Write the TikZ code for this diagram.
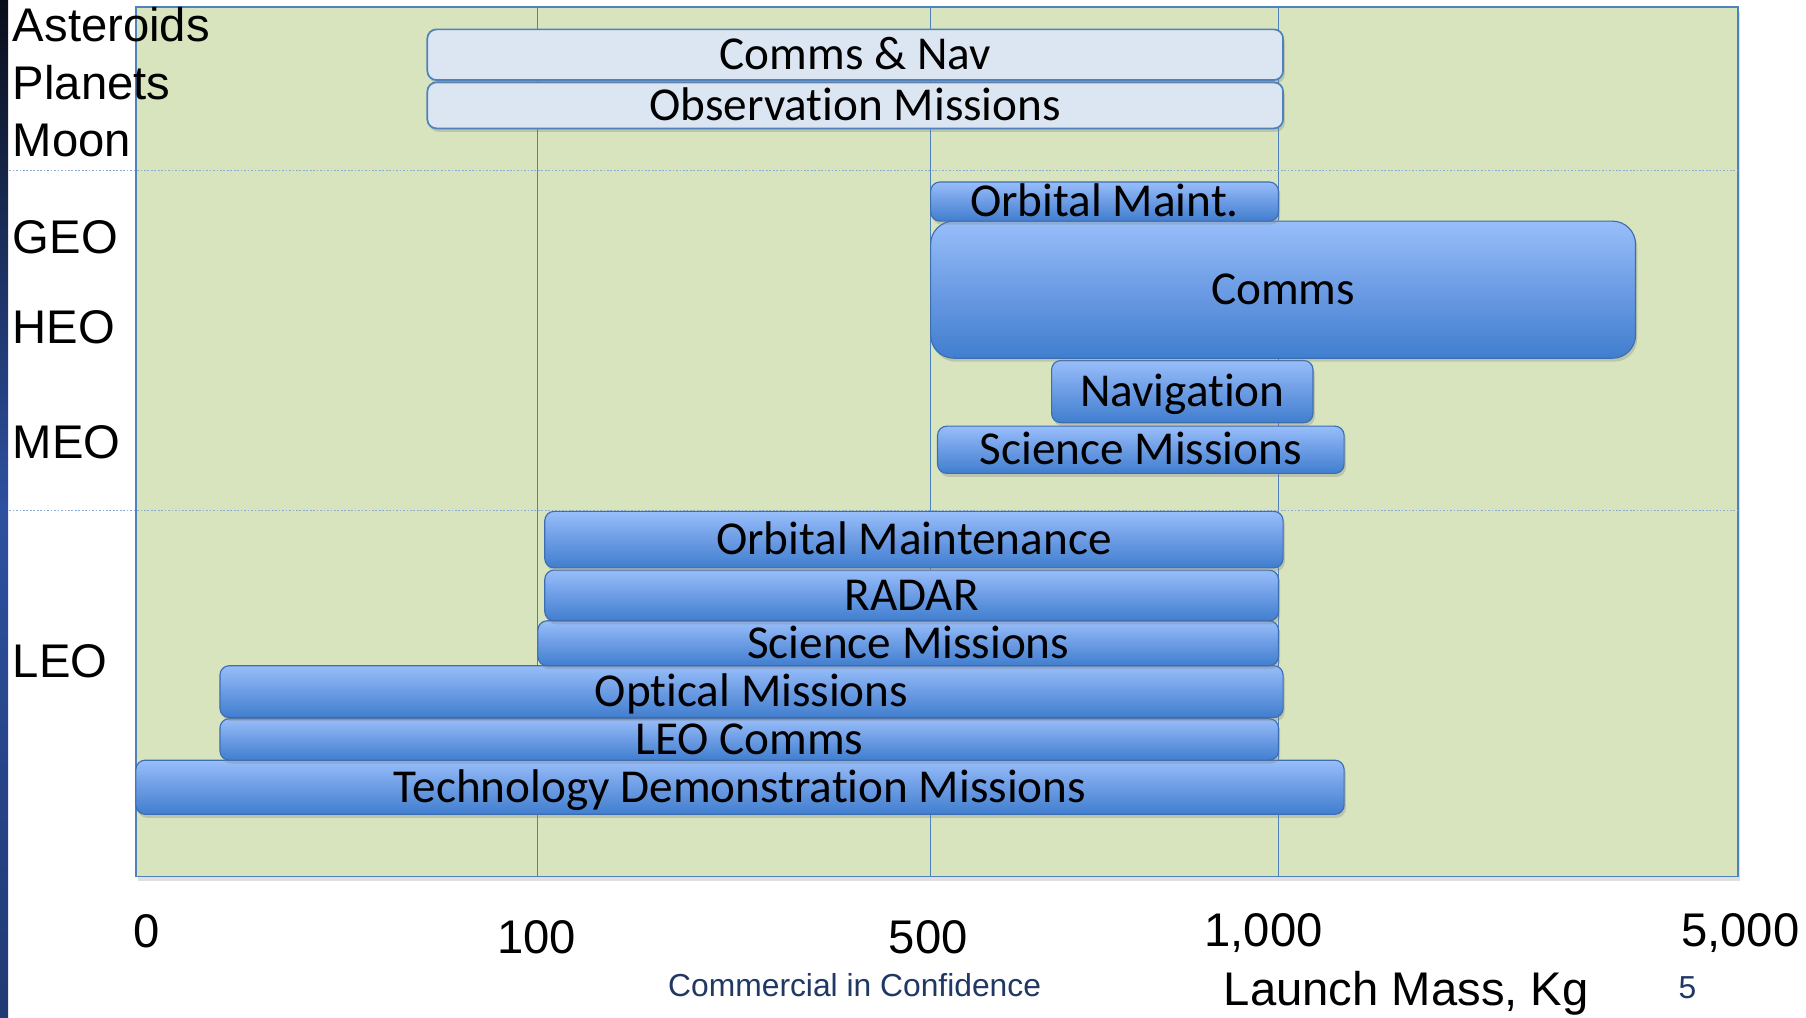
\documentclass[tikz,border=0pt]{standalone}
\usepackage{fontspec}
\setmainfont{Liberation Sans}
\newfontfamily\barfont[Ligatures={NoCommon,NoContextual}]{Carlito}
\usetikzlibrary{shadows}
\definecolor{panelgreen}{RGB}{215,228,189}
\definecolor{gridblue}{RGB}{79,129,189}
\definecolor{dotblue}{RGB}{140,172,212}
\definecolor{lightbar}{RGB}{220,230,242}
\definecolor{bartop}{RGB}{152,190,250}
\definecolor{barmid}{RGB}{108,156,228}
\definecolor{barbot}{RGB}{64,126,206}
\definecolor{barline}{RGB}{62,110,178}
\definecolor{navytext}{RGB}{31,56,100}
\definecolor{striptop}{RGB}{10,14,26}
\definecolor{stripmid}{RGB}{45,80,160}
\definecolor{stripbot}{RGB}{32,58,115}
\tikzset{
  barshadow/.style={drop shadow={shadow xshift=1.5pt, shadow yshift=-3pt, opacity=0.3}},
  bluebar/.style={draw=barline, line width=1pt, rounded corners=8pt,
    top color=bartop, bottom color=barbot, middle color=barmid,
    inner sep=0pt, text height=26.4pt, text depth=0pt,
    font=\barfont\fontsize{41}{41}\selectfont, barshadow},
  lightbox/.style={draw=gridblue, line width=1.5pt, rounded corners=8pt, fill=lightbar,
    inner sep=0pt, text height=26.4pt, text depth=0pt,
    font=\barfont\fontsize{41}{41}\selectfont, barshadow},
  lbl/.style={font=\fontsize{41}{41}\selectfont, inner sep=0pt, anchor=base west},
  axisnum/.style={font=\fontsize{41}{41}\selectfont, inner sep=0pt, anchor=base},
  footer/.style={font=\fontsize{27.6}{28}\selectfont, text=navytext, inner sep=0pt, anchor=base},
  gridline/.style={draw=gridblue, line width=0.9pt},
  dotline/.style={draw=dotblue, line width=1pt, dash pattern=on 1.5pt off 1.5pt}
}
\begin{document}
\begin{tikzpicture}[x=1pt, y=-1pt]
\useasboundingbox (0,0) rectangle (1568,883);
\fill[white] (0,0) rectangle (1568,883);
% left dark strip
\shade[top color=striptop, bottom color=stripbot, middle color=stripmid] (0,0) rectangle (7,883);
% panel
\path[fill=panelgreen, draw=gridblue, line width=1.2pt,
  drop shadow={shadow xshift=2pt, shadow yshift=-4pt, opacity=0.25}] (118,6) rectangle (1509,761);
% grid lines
\coordinate (g1t) at (467,6); \coordinate (g1b) at (467,761);
\coordinate (g2t) at (808,6); \coordinate (g2b) at (808,761);
\coordinate (g3t) at (1110,6); \coordinate (g3b) at (1110,761);
\draw[gridline] (g1t) -- (g1b);
\draw[gridline] (g2t) -- (g2b);
\draw[gridline] (g3t) -- (g3b);
% dotted separators
\coordinate (d1l) at (8,148); \coordinate (d1r) at (1509,148);
\coordinate (d2l) at (8,443); \coordinate (d2r) at (1509,443);
\draw[dotline] (d1l) -- (d1r);
\draw[dotline] (d2l) -- (d2r);
% left labels
\node[lbl] (ast) at (11,36) {Asteroids};
\node[lbl] (pla) at (11,86) {Planets};
\node[lbl] (moo) at (11,136) {Moon};
\node[lbl] (geo) at (11,220) {GEO};
\node[lbl] (heo) at (11,298) {HEO};
\node[lbl] (meo) at (11,398) {MEO};
\node[lbl] (leo) at (11,588) {LEO};
% LEO bars (bottom first)
\node[bluebar, minimum width=1049pt, minimum height=47pt] (tech) at (642.5,683.5) {Technology Demonstrat\kern0pt ion Missions};
\node[bluebar, minimum width=919pt, minimum height=36pt] (leoc) at (650.5,642) {LEO Comms};
\node[bluebar, minimum width=923pt, minimum height=45pt] (opt) at (652.5,600.5) {Optical Missions};
\node[bluebar, minimum width=643pt, minimum height=39pt] (sci2) at (788.5,558.5) {Science Missions};
\node[bluebar, minimum width=637pt, minimum height=44pt] (radar) at (791.5,517) {RADAR};
\node[bluebar, minimum width=641pt, minimum height=49pt] (om2) at (793.5,468.5) {Orbital Maintenance};
% GEO/HEO/MEO bars
\node[bluebar, minimum width=353pt, minimum height=41pt] (sci1) at (990.5,390.5) {Science Missions};
\node[bluebar, minimum width=227pt, minimum height=54pt] (nav) at (1026.5,340) {Navigat\kern0pt ion};
\node[bluebar, rounded corners=20pt, minimum width=612pt, minimum height=119pt] (comms) at (1114,251.5) {Comms};
\node[bluebar, minimum width=302pt, minimum height=34pt] (om1) at (959,175) {Orbital Maint.};
% Deep space bars
\node[lightbox, minimum width=743pt, minimum height=40pt] (obs) at (742.5,91.5) {Observat\kern0pt ion Missions};
\node[lightbox, minimum width=743pt, minimum height=44pt] (cn) at (742.5,47.5) {Comms \& Nav};
% axis
\node[axisnum] (n0) at (127,823) {0};
\node[axisnum] (n100) at (466,828) {100};
\node[axisnum] (n500) at (806,828) {500};
\node[axisnum] (n1000) at (1097,822) {1,000};
\node[axisnum] (n5000) at (1511,822) {5,000};
\node[axisnum] (xlab) at (1221,873) {Launch Mass, Kg};
\node[footer] (conf) at (742,865) {Commercial in Confidence};
\node[footer] (pg) at (1465,867) {5};
\end{tikzpicture}
\end{document}
